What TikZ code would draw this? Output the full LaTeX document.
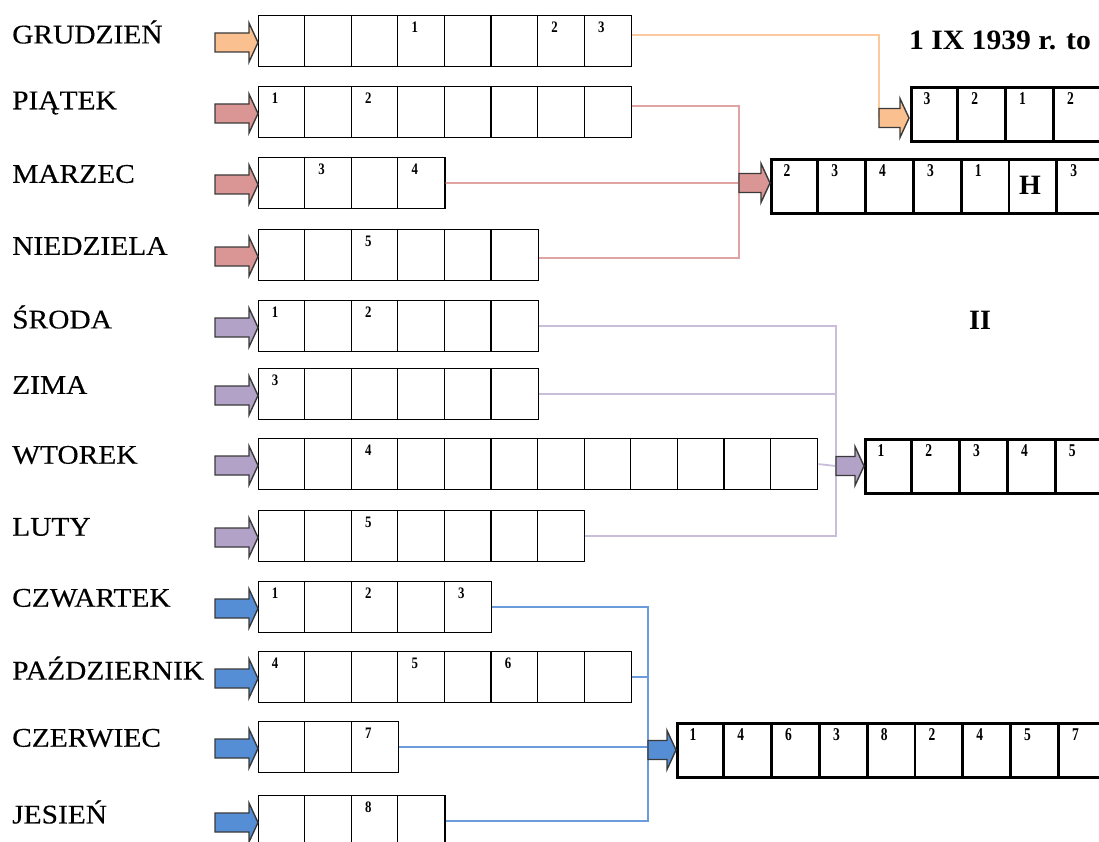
\documentclass[tikz,border=0pt]{standalone}
\usepackage{fontspec}
\setmainfont{Liberation Serif}
\newfontfamily\lblfont[FakeBold=0.3]{Liberation Serif}
\usetikzlibrary{positioning}
\definecolor{orng}{HTML}{FAC090}
\definecolor{orngLine}{HTML}{FBC99C}
\definecolor{pnk}{HTML}{D99694}
\definecolor{pnkLine}{HTML}{DFA3A2}
\definecolor{lav}{HTML}{B3A2C7}
\definecolor{lavLine}{HTML}{C9BDDA}
\definecolor{blu}{HTML}{558ED5}
\definecolor{bluLine}{HTML}{6A9CDC}
\definecolor{arrEdge}{HTML}{3A3A3A}

% block arrow: tail x, tail y, length, fill
\newcommand{\blockarrow}[4]{%
  \filldraw[fill=#4,draw=arrEdge,line width=1.4pt,line join=miter]
    (#1,#2) ++(0,-9.5) -- ++(#3-9,0) -- ++(0,-10) -- ++(9,19.5) -- ++(-9,19.5)
    -- ++(0,-10) -- ++(-#3+9,0) -- cycle;}

\begin{document}
\begin{tikzpicture}[x=1pt,y=-1pt,
  cellbox/.style={draw,line width=1.2pt,inner sep=0pt,minimum height=51pt,anchor=north west},
  resbox/.style={draw,line width=2.8pt,inner sep=0pt,minimum height=54pt,anchor=north west},
  lbl/.style={anchor=west,inner sep=0pt,xscale=1.09,font=\lblfont\fontsize{27}{30}\selectfont},
  num/.style={inner sep=0pt,xscale=0.8,font=\fontsize{16}{16}\selectfont\bfseries},
  rnum/.style={inner sep=0pt,xscale=0.75,font=\fontsize{18}{18}\selectfont\bfseries},
  big/.style={inner sep=0pt,font=\fontsize{28}{30}\selectfont\bfseries},
  link/.style={line width=1.8pt}]
\useasboundingbox (0,0) rectangle (1099,842);
\clip (0,0) rectangle (1099,842);

\foreach \nm/\lab/\ty/\n/\col/\nums in {
  gru/GRUDZIEŃ/15/8/orng/{4/1,7/2,8/3},
  pia/PIĄTEK/86/8/pnk/{1/1,3/2},
  mar/MARZEC/157/4/pnk/{2/3,4/4},
  nie/NIEDZIELA/229/6/pnk/{3/5},
  sro/ŚRODA/300/6/lav/{1/1,3/2},
  zim/ZIMA/368/6/lav/{1/3},
  wto/WTOREK/438/12/lav/{3/4},
  lut/LUTY/510/7/lav/{3/5},
  czw/CZWARTEK/581/5/blu/{1/1,3/2,5/3},
  paz/PAŹDZIERNIK/651/8/blu/{1/4,4/5,6/6},
  cze/CZERWIEC/721/3/blu/{3/7},
  jes/JESIEŃ/795/4/blu/{3/8}}{
  \node[lbl] (\nm-l) at (12,\ty+17) {\lab};
  \node[cellbox,minimum width=\n*46.6pt] (\nm) at (258,\ty) {};
  \foreach \k in {2,...,\n} \draw[line width=1.2pt] (258+\k*46.6-46.6,\ty) -- ++(0,51);
  \foreach \k/\d in \nums \node[num] at (258+\k*46.6-46.6+17,\ty+12) {\d};
  \blockarrow{215}{\ty+27.5}{43}{\col}
}

\foreach \nm/\bx/\by/\n/\digits in {
  resA/910/86/5/{3,2,1,2},
  resB/770/158/7/{2,3,4,3,1,,3},
  resC/864/438/5/{1,2,3,4,5},
  resD/676/722/9/{1,4,6,3,8,2,4,5,7}}{
  \node[resbox,minimum width=\n*47.8pt] (\nm) at (\bx,\by) {};
  \foreach \k in {2,...,\n} \draw[line width=2.8pt] (\bx+\k*47.8-47.8,\by) -- ++(0,54);
  \foreach \d [count=\k] in \digits \node[rnum] at (\bx+\k*47.8-47.8+17,\by+13) {\d};
}
\node[big] (hB) at (1030,185) {H};

\coordinate (jO) at (879,118);
\coordinate (jP) at (739,183);
\coordinate (jV) at (836,466);
\coordinate (jB) at (648,750);

\draw[link,orngLine] ([yshift=6pt]gru.east) -| (jO);
\draw[link,pnkLine] ([yshift=6pt]pia.east) -| (jP);
\draw[link,pnkLine] (mar.east) -- (jP);
\draw[link,pnkLine] ([yshift=-3pt]nie.east) -| (jP);
\draw[link,lavLine] (sro.east) -| (jV);
\draw[link,lavLine] (zim.east) -| (jV);
\draw[link,lavLine] (wto.east) -- (jV);
\draw[link,lavLine] (lut.east) -| (jV);
\draw[link,bluLine] (czw.east) -| (jB);
\draw[link,bluLine] (paz.east) -| (jB);
\draw[link,bluLine] (cze.east) -| (jB);
\draw[link,bluLine] (jes.east) -| (jB);

\blockarrow{879}{118}{30}{orng}
\blockarrow{739}{183}{31}{pnk}
\blockarrow{836}{466}{28}{lav}
\blockarrow{648}{750}{28}{blu}

\node[big,xscale=1.06] (title) at (1000,40) {1 IX 1939 r. to};
\node[big] (part) at (980,320) {II};
\end{tikzpicture}
\end{document}
